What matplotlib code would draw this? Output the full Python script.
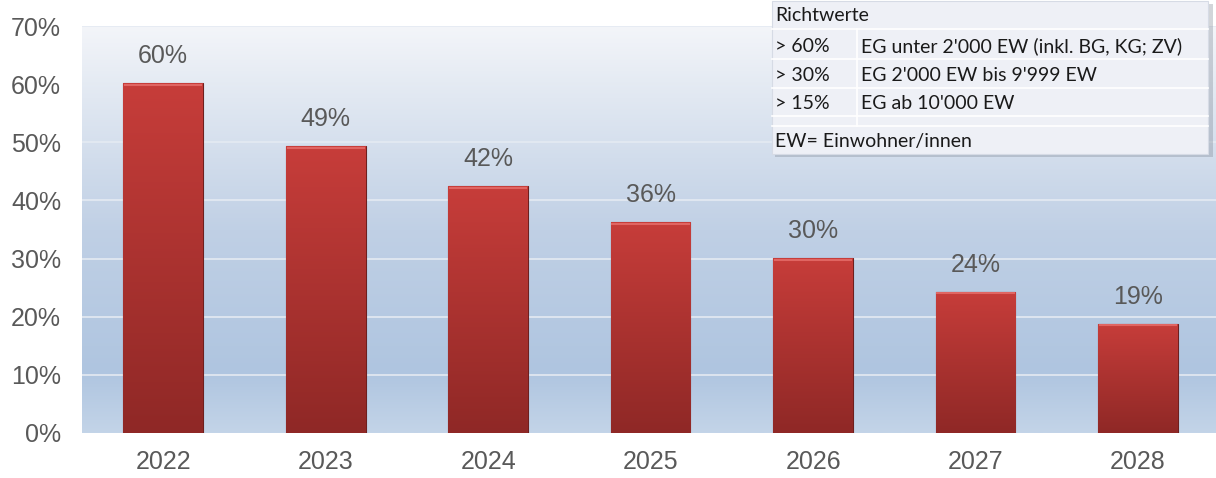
import matplotlib.pyplot as plt
import matplotlib.colors as mcolors
import numpy as np

years = ["2022", "2023", "2024", "2025", "2026", "2027", "2028"]
shares = [60.2, 49.3, 42.4, 36.3, 30.1, 24.3, 18.8]  # percent
labels = ["60%", "49%", "42%", "36%", "30%", "24%", "19%"]
yticks = [0, 10, 20, 30, 40, 50, 60, 70]

table_title = "Richtwerte"
table_rows = [("> 60%", "EG unter 2'000 EW (inkl. BG, KG; ZV)"),
              ("> 30%", "EG 2'000 EW bis 9'999 EW"),
              ("> 15%", "EG ab 10'000 EW")]
table_note = "EW= Einwohner/innen"

GREY = "#595959"
plt.rcParams["font.family"] = ["Liberation Sans", "DejaVu Sans"]

fig = plt.figure(figsize=(12.16, 4.78), dpi=100)
W, H = 1216, 478
ax = fig.add_axes([82 / W, (H - 433) / H, (W - 82) / W, (433 - 26) / H])
ax.set_xlim(-0.5, 6.48)
ax.set_ylim(0, 70)

# background gradient: pale at the top, blue lower down, lighter at the bottom
bg = mcolors.LinearSegmentedColormap.from_list(
    "bg", [(0, "#c3d4e8"), (0.15, "#afc5e0"), (0.5, "#c0d0e5"), (1, "#f3f5f9")])
grad = np.linspace(0, 1, 256).reshape(-1, 1)
ax.imshow(grad, cmap=bg, origin="lower", aspect="auto",
          extent=[-0.5, 6.48, 0, 70], zorder=0)

for t in yticks[1:]:
    ax.axhline(t, color="#e4eaf2", lw=1.2, zorder=1)

x = np.arange(len(years))
bars = ax.bar(x, shares, width=0.49, color="#b03432", edgecolor="#6e1f1e",
              lw=0.8, zorder=2)

# vertical shading inside each bar
red = mcolors.LinearSegmentedColormap.from_list("red", ["#8f2826", "#c73d3a"])
for b in bars:
    x0, w, h = b.get_x(), b.get_width(), b.get_height()
    im = ax.imshow(grad, cmap=red, origin="lower", aspect="auto",
                   extent=[x0, x0 + w, 0, h], zorder=2.5)
    im.set_clip_path(b)
    ax.plot([x0 + 0.01, x0 + w - 0.01], [h - 0.3, h - 0.3],
            color="#e06562", lw=1.5, zorder=3)

FS = 18
for xi, v, lab in zip(x, shares, labels):
    ax.text(xi, v + 2.6, lab, ha="center", va="bottom", fontsize=FS,
            color=GREY, zorder=4)

ax.set_xticks(x)
ax.set_xticklabels(years, fontsize=FS, color=GREY)
ax.set_yticks(yticks)
ax.set_yticklabels([f"{t}%" for t in yticks], fontsize=FS, color=GREY)
ax.tick_params(length=0)
ax.tick_params(axis="x", pad=12)
ax.tick_params(axis="y", pad=15)
for s in ax.spines.values():
    s.set_visible(False)

# reference-value table in the upper right
tab = fig.add_axes([0, 0, 1, 1], zorder=5)
tab.set_xlim(0, W)
tab.set_ylim(H, 0)
tab.axis("off")
tab.add_patch(plt.Rectangle((775, 4), 438, 153, color="#7f8794", alpha=0.35, lw=0))
tab.add_patch(plt.Rectangle((772, 1), 436, 153, facecolor="#eef0f6",
                            edgecolor="#d6dbe5", lw=0.8))
for yl in [29, 59, 88, 116, 126]:
    tab.plot([772, 1208], [yl, yl], color="white", lw=1.2)
tab.plot([857, 857], [29, 126], color="white", lw=1.2)
fs = 14
kw = dict(fontsize=fs, family="Lato", va="center", color="#1a1a1a")
tab.text(775, 15, table_title, **kw)
for (a, b), yy in zip(table_rows, [46, 75, 103]):
    tab.text(775, yy, a, **kw)
    tab.text(861, yy, b, **kw)
tab.text(775, 141, table_note, **kw)

fig.savefig("out.png", dpi=100)
